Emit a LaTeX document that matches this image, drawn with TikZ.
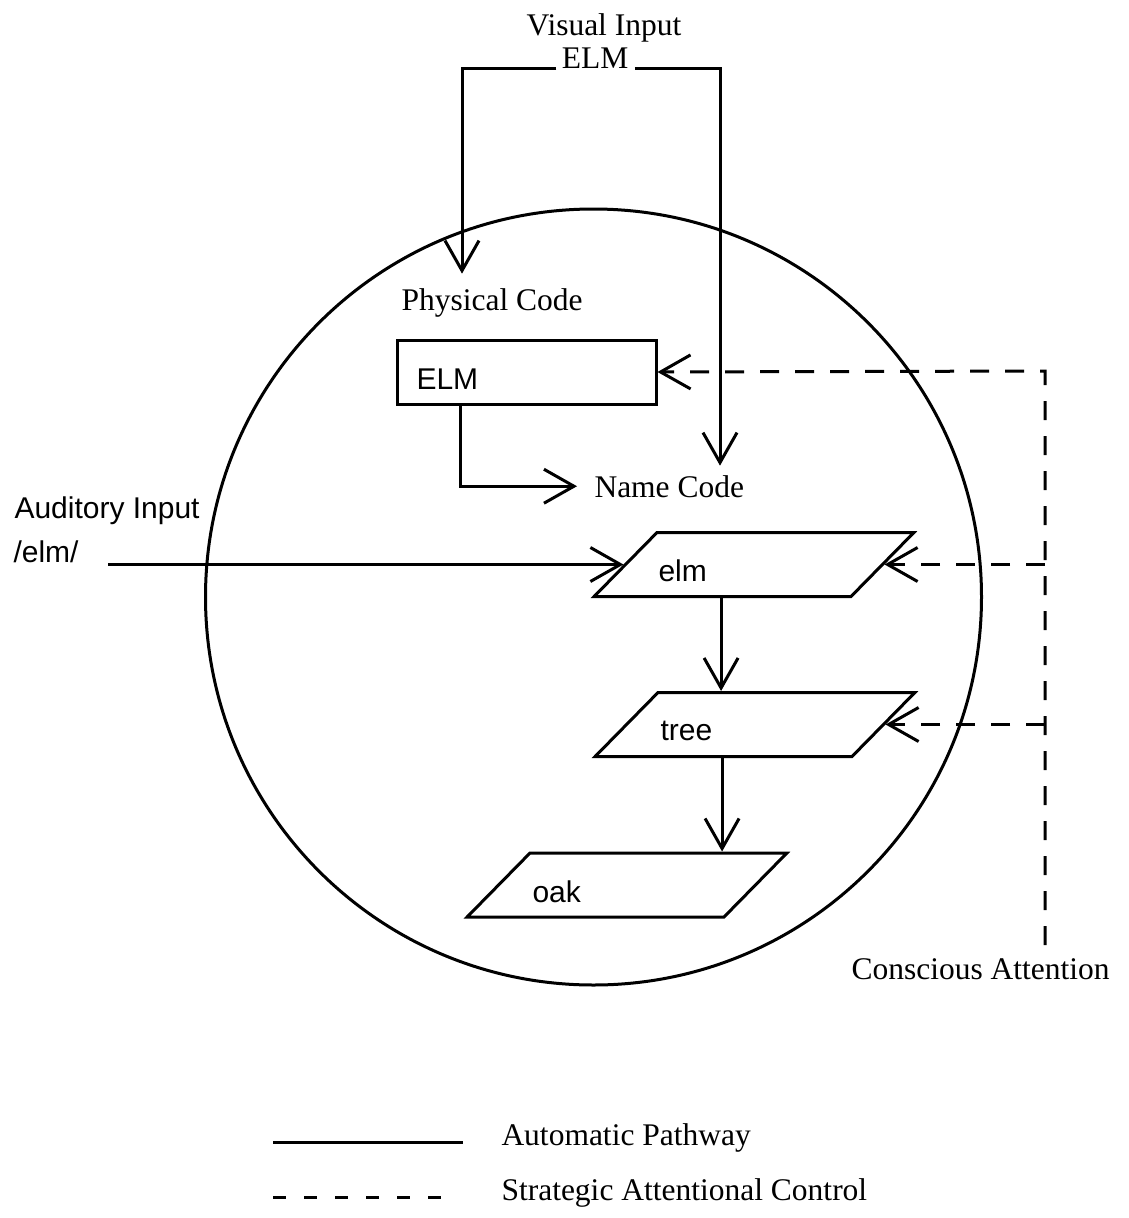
\documentclass[tikz,border=0pt]{standalone}
\usepackage{fontspec}
\setmainfont{Liberation Serif}
\setsansfont{Liberation Sans}
\usetikzlibrary{arrows.meta,shapes.geometric}

\begin{document}
\begin{tikzpicture}[x=1pt, y=-1pt, line width=3pt,
  >={Straight Barb[length=30pt,width=34pt]},
  lbl/.style={inner sep=0, font=\fontsize{31.5pt}{36pt}\selectfont},
  slbl/.style={inner sep=0, font=\fontsize{30pt}{34pt}\selectfont\sffamily},
  para/.style={draw, trapezium, trapezium left angle=45.5, trapezium right angle=134.5, text width=194pt, text height=64pt, text depth=0pt, inner sep=0},
  strat/.style={dash pattern=on 19pt off 16pt}]
\useasboundingbox (0,0) rectangle (1128,1218);
\node[circle, draw, minimum size=776pt, inner sep=0] (mem) at (593.5,597){};
\node[lbl, anchor=base] (vis) at (604,35){Visual Input};
\node[lbl, anchor=base] (velm) at (595,68){ELM};
\node[lbl, anchor=base west] (phys) at (400,310){Physical Code};
\node[draw, minimum width=259pt, minimum height=64pt, inner sep=0] (box) at (526.5,372){};
\node[slbl, anchor=base west] (boxtxt) at (415,389){ELM};
\node[lbl, anchor=base west] (name) at (593,497){Name Code};
\node[slbl, anchor=base west] (aud) at (13,518){Auditory Input};
\node[slbl, anchor=base west] (slash) at (12,562){/elm/};
\node[para] (elm) at (754,564.5){};
\node[slbl, anchor=base west] (elmtxt) at (657,581){elm};
\node[para] (tree) at (755,724.5){};
\node[slbl, anchor=base west] (treetxt) at (659,740){tree};
\node[para] (oak) at (627,885){};
\node[slbl, anchor=base west] (oaktxt) at (531,902){oak};
\node[lbl, anchor=base west] (ca) at (850,979){Conscious Attention};
\coordinate (audstart) at (108,564.5);
\coordinate (ctl) at (1045,371);
\coordinate (cabot) at (1045,945);
\draw[->]([xshift=-4pt]velm.base west) -| ([xshift=62pt,yshift=13pt]phys.north west);
\draw[->]([xshift=5pt]velm.base east) -| ([xshift=127pt,yshift=8pt]name.north west);
\draw[->]([xshift=65pt]box.south west) |- ([xshift=-16pt]name.west);
\draw[->](audstart) -- (elm.left side);
\draw[->](elm.bottom side) -- (elm.bottom side |- tree.top side);
\draw[->](tree.bottom side) -- (tree.bottom side |- oak.top side);
\draw[strat, ->](cabot) -- (ctl) -- (box.east);
\draw[strat, ->](ctl |- elm.right side) -- (elm.right side);
\draw[strat, ->](ctl |- tree.right side) -- (tree.right side);
\coordinate (la) at (273,1142);
\coordinate (lb) at (463,1142);
\coordinate (lc) at (273,1197);
\coordinate (ld) at (441,1197);
\draw[](la) -- (lb);
\draw[dash pattern=on 13pt off 18pt](lc) -- (ld);
\node[lbl, anchor=base west] (autotxt) at (500,1145){Automatic Pathway};
\node[lbl, anchor=base west] (strattxt) at (500,1200){Strategic Attentional Control};
\end{tikzpicture}
\end{document}
